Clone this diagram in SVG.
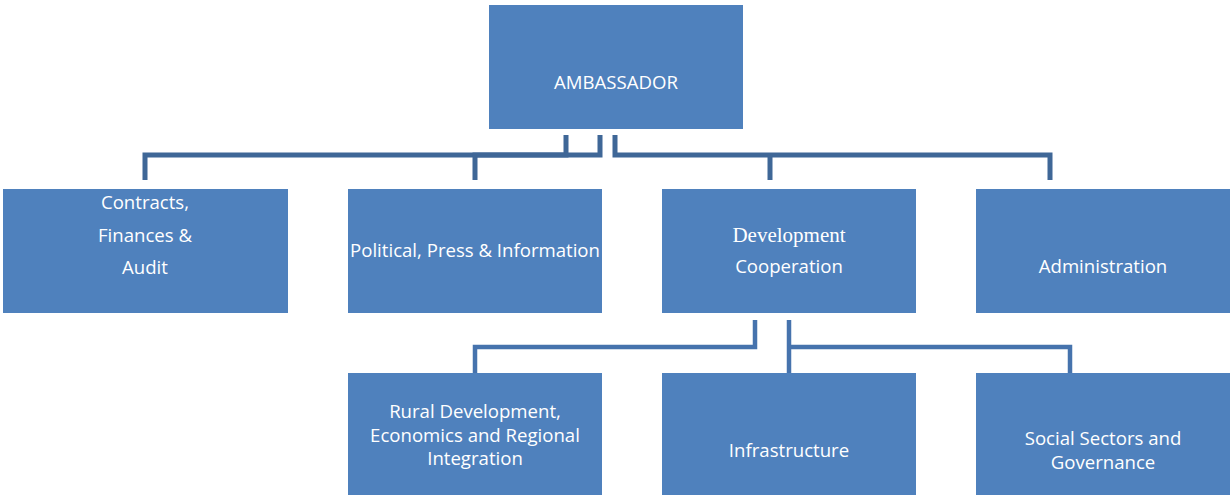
<svg xmlns="http://www.w3.org/2000/svg" width="1230" height="495" viewBox="0 0 1230 495">
<style>
.box{fill:#4f81bd;}
.t{font-family:"Open Sans","Liberation Sans",sans-serif;font-size:18.6px;fill:#ffffff;text-anchor:middle;dominant-baseline:central;}
.s{font-family:"Liberation Serif",serif;font-size:21px;fill:#ffffff;text-anchor:middle;dominant-baseline:central;}
.c1{fill:none;stroke:#3f6797;stroke-width:5;stroke-linejoin:miter;}
.c2{fill:none;stroke:#4673ad;stroke-width:4.5;stroke-linejoin:miter;}
</style>
<rect width="1230" height="495" fill="#ffffff"/>
<g id="connectors">
<polyline class="c1" points="566,135 566,155 145,155 145,180"/>
<polyline class="c1" points="600,135 600,155 475,155 475,180"/>
<polyline class="c1" points="615,135 615,155 1050,155 1050,180"/>
<line class="c1" x1="770" y1="155" x2="770" y2="180"/>
<polyline class="c2" points="755,320 755,347 475,347 475,376"/>
<polyline class="c2" points="789,320 789,376"/>
<polyline class="c2" points="789,347 1070,347 1070,376"/>
</g>
<g id="ambassador">
<rect class="box" x="489" y="5" width="254" height="124"/>
<text class="t" x="616" y="81">AMBASSADOR</text>
</g>
<g id="contracts">
<rect class="box" x="3" y="189" width="285" height="124"/>
<text class="t" x="145" y="201">Contracts,</text>
<text class="t" x="145" y="234">Finances &amp;</text>
<text class="t" x="145" y="266">Audit</text>
</g>
<g id="political">
<rect class="box" x="348" y="189" width="254" height="124"/>
<text class="t" x="475" y="249">Political, Press &amp; Information</text>
</g>
<g id="development">
<rect class="box" x="662" y="189" width="254" height="124"/>
<text class="s" x="789" y="235">Development</text>
<text class="t" x="789" y="265">Cooperation</text>
</g>
<g id="administration">
<rect class="box" x="976" y="189" width="254" height="124"/>
<text class="t" x="1103" y="265">Administration</text>
</g>
<g id="rural">
<rect class="box" x="348" y="373" width="254" height="122"/>
<text class="t" x="475" y="410">Rural Development,</text>
<text class="t" x="475" y="434">Economics and Regional</text>
<text class="t" x="475" y="457">Integration</text>
</g>
<g id="infrastructure">
<rect class="box" x="662" y="373" width="254" height="122"/>
<text class="t" x="789" y="449">Infrastructure</text>
</g>
<g id="social">
<rect class="box" x="976" y="373" width="254" height="122"/>
<text class="t" x="1103" y="437">Social Sectors and</text>
<text class="t" x="1103" y="461">Governance</text>
</g>
</svg>
